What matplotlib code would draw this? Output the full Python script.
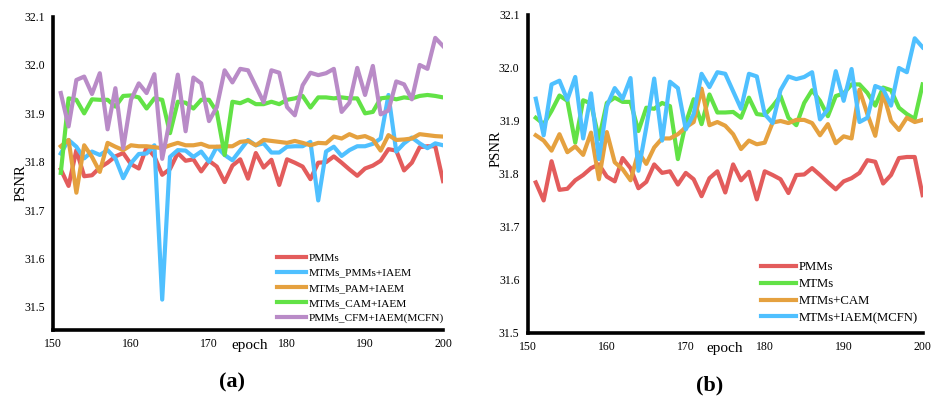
import numpy as np
import matplotlib
matplotlib.use('Agg')
import matplotlib.pyplot as plt

plt.rcParams['font.family'] = ['Liberation Serif', 'DejaVu Serif']

epochs = np.arange(151, 201)

# shared series (same runs appear in both panels)
pmms = [31.784, 31.75, 31.824, 31.77, 31.772, 31.788, 31.798, 31.811, 31.818, 31.795,
        31.786, 31.83, 31.811, 31.773, 31.785, 31.818, 31.802, 31.805, 31.78, 31.802,
        31.79, 31.758, 31.792, 31.805, 31.765, 31.818, 31.788, 31.804, 31.752, 31.805,
        31.798, 31.79, 31.764, 31.798, 31.799, 31.811, 31.798, 31.784, 31.771, 31.786,
        31.792, 31.802, 31.826, 31.823, 31.782, 31.798, 31.83, 31.832, 31.832, 31.76]
mcfn = [31.942, 31.873, 31.969, 31.976, 31.94, 31.983, 31.867, 31.952, 31.828, 31.928,
        31.962, 31.942, 31.981, 31.806, 31.888, 31.98, 31.863, 31.974, 31.962, 31.884,
        31.913, 31.989, 31.964, 31.992, 31.989, 31.956, 31.923, 31.989, 31.984, 31.913,
        31.896, 31.958, 31.984, 31.979, 31.983, 31.992, 31.903, 31.922, 31.994, 31.938,
        31.998, 31.898, 31.906, 31.966, 31.96, 31.929, 32.0, 31.992, 32.056, 32.039]

# panel (a)
pmms_iaem = [31.817, 31.845, 31.831, 31.807, 31.821, 31.814, 31.824, 31.807, 31.766, 31.797,
             31.816, 31.817, 31.834, 31.515, 31.81, 31.824, 31.823, 31.81, 31.821, 31.8,
             31.831, 31.814, 31.803, 31.824, 31.845, 31.834, 31.838, 31.819, 31.819, 31.831,
             31.832, 31.832, 31.841, 31.72, 31.821, 31.831, 31.812, 31.824, 31.832, 31.832,
             31.837, 31.848, 31.938, 31.821, 31.838, 31.85, 31.838, 31.828, 31.838, 31.834]
pam_iaem = [31.832, 31.845, 31.736, 31.834, 31.81, 31.779, 31.839, 31.831, 31.824, 31.834,
            31.832, 31.832, 31.83, 31.828, 31.834, 31.839, 31.834, 31.834, 31.837, 31.831,
            31.831, 31.832, 31.832, 31.841, 31.843, 31.834, 31.845, 31.843, 31.841, 31.839,
            31.843, 31.839, 31.834, 31.839, 31.838, 31.852, 31.848, 31.857, 31.85, 31.853,
            31.846, 31.823, 31.855, 31.845, 31.846, 31.848, 31.857, 31.855, 31.853, 31.852]
cam_iaem = [31.777, 31.931, 31.928, 31.9, 31.929, 31.928, 31.928, 31.914, 31.936, 31.937,
            31.933, 31.91, 31.931, 31.928, 31.859, 31.924, 31.922, 31.91, 31.928, 31.928,
            31.903, 31.814, 31.924, 31.921, 31.928, 31.919, 31.919, 31.924, 31.919, 31.928,
            31.931, 31.936, 31.912, 31.933, 31.933, 31.931, 31.933, 31.931, 31.931, 31.9,
            31.903, 31.931, 31.933, 31.929, 31.933, 31.931, 31.936, 31.938, 31.936, 31.933]

# panel (b)
mtms = [31.906, 31.894, 31.919, 31.948, 31.938, 31.859, 31.939, 31.933, 31.866, 31.934,
        31.944, 31.936, 31.936, 31.881, 31.925, 31.923, 31.934, 31.928, 31.828, 31.896,
        31.941, 31.894, 31.95, 31.916, 31.916, 31.917, 31.906, 31.944, 31.913, 31.911,
        31.928, 31.947, 31.906, 31.892, 31.934, 31.958, 31.938, 31.909, 31.947, 31.952,
        31.969, 31.969, 31.953, 31.929, 31.963, 31.958, 31.925, 31.913, 31.904, 31.969]
mtms_cam = [31.873, 31.863, 31.844, 31.875, 31.841, 31.852, 31.836, 31.878, 31.79, 31.879,
            31.822, 31.809, 31.788, 31.841, 31.819, 31.85, 31.867, 31.867, 31.875, 31.888,
            31.898, 31.961, 31.892, 31.898, 31.891, 31.875, 31.847, 31.863, 31.856, 31.859,
            31.897, 31.9, 31.896, 31.902, 31.902, 31.896, 31.873, 31.894, 31.858, 31.871,
            31.867, 31.959, 31.913, 31.872, 31.953, 31.9, 31.883, 31.906, 31.898, 31.902]

red = '#e35c5c'
blue = '#4fc0ff'
orange = '#e5a13f'
green = '#62e246'
purple = '#b98bc7'
lw = 3


def style(ax, ylo):
	ax.set_xlim(150, 200)
	ax.set_ylim(ylo, 32.1)
	ax.set_xticks(range(150, 201, 10))
	ax.set_yticks([31.5, 31.6, 31.7, 31.8, 31.9, 32.0, 32.1])
	ax.set_yticklabels(['31.5', '31.6', '31.7', '31.8', '31.9', '32.0', '32.1'])
	for s in ['top', 'right']:
		ax.spines[s].set_visible(False)
	for s in ['left', 'bottom']:
		ax.spines[s].set_linewidth(2.6)
	ax.tick_params(length=0, labelsize=8.5, pad=6)
	ax.set_xlabel('epoch', fontsize=11, va='top')
	ax.set_ylabel('PSNR', fontsize=10.5)


fig = plt.figure(figsize=(9.31, 4.05), dpi=100)

ax1 = fig.add_axes([0.0569, 0.185, 0.419, 0.774])
ax1.plot(epochs, pmms, color=red, lw=lw, label='PMMs')
ax1.plot(epochs, pmms_iaem, color=blue, lw=lw, label='MTMs_PMMs+IAEM')
ax1.plot(epochs, pam_iaem, color=orange, lw=lw, label='MTMs_PAM+IAEM')
ax1.plot(epochs, cam_iaem, color=green, lw=lw, label='MTMs_CAM+IAEM')
ax1.plot(epochs, mcfn, color=purple, lw=lw, label='PMMs_CFM+IAEM(MCFN)')
style(ax1, 31.452)
ax1.xaxis.set_label_coords(0.505, -0.03)
ax1.yaxis.set_label_coords(-0.064, 0.47)
ax1.legend(loc='lower right', bbox_to_anchor=(1.02, 0.0), frameon=False, fontsize=8.2,
		   handlelength=2.5, handletextpad=0.25, labelspacing=0.45, borderaxespad=0.2)

ax2 = fig.add_axes([0.567, 0.178, 0.424, 0.785])
ax2.plot(epochs, pmms, color=red, lw=lw, label='PMMs')
ax2.plot(epochs, mtms, color=green, lw=lw, label='MTMs')
ax2.plot(epochs, mtms_cam, color=orange, lw=lw, label='MTMs+CAM')
ax2.plot(epochs, mcfn, color=blue, lw=lw, label='MTMs+IAEM(MCFN)')
style(ax2, 31.5)
ax2.xaxis.set_label_coords(0.499, -0.03)
ax2.yaxis.set_label_coords(-0.063, 0.58)
ax2.legend(loc='lower right', bbox_to_anchor=(1.01, 0.0), frameon=False, fontsize=9.2,
		   handlelength=2.7, handletextpad=0.2, labelspacing=0.38, borderaxespad=0.3)

fig.text(232 / 931, 1 - 382 / 405, '(a)', fontsize=16, fontweight='bold', ha='center', va='center')
fig.text(710 / 931, 1 - 385 / 405, '(b)', fontsize=16, fontweight='bold', ha='center', va='center')

fig.savefig('out.png', dpi=100)
